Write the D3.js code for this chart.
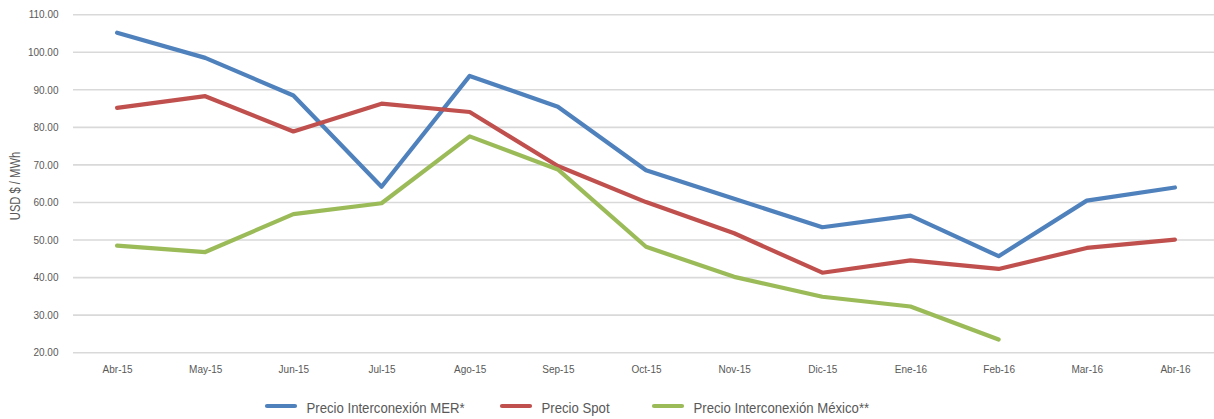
<!DOCTYPE html>
<html><head><meta charset="utf-8">
<script src="https://cdn.jsdelivr.net/npm/d3@7/dist/d3.min.js"></script>
<style>
html,body{margin:0;padding:0;background:#fff;}
text{font-family:"Liberation Sans",Arial,sans-serif;fill:#595959;}
</style></head>
<body><svg id="c" width="1214" height="419"></svg>
<script>
const months = ["Abr-15","May-15","Jun-15","Jul-15","Ago-15","Sep-15","Oct-15","Nov-15","Dic-15","Ene-16","Feb-16","Mar-16","Abr-16"];
const mer = [105.2,98.5,88.5,64.2,93.7,85.5,68.6,61.0,53.4,56.5,45.7,60.5,64.0];
const spot = [85.2,88.3,78.9,86.3,84.1,69.7,60.1,51.8,41.3,44.6,42.3,47.9,50.1];
const mexico = [48.5,46.8,56.9,59.8,77.6,68.8,48.2,40.2,34.9,32.3,23.5,null,null];
const yTicks = [20,30,40,50,60,70,80,90,100,110];
const seriesNames = ["Precio Interconexión MER*","Precio Spot","Precio Interconexión México**"];
const colors = ["#4F81BD","#C0504D","#9BBB59"];

const svg = d3.select("#c");
const x = d3.scalePoint().domain(months).range([73,1219]).padding(0.5);
const y = d3.scaleLinear().domain([20,110]).range([352.7,14.7]);

// gridlines
svg.append("g").selectAll("line").data(yTicks).join("line")
  .attr("x1",73).attr("x2",1214)
  .attr("y1",d=>y(d)).attr("y2",d=>y(d))
  .attr("stroke","#D9D9D9").attr("stroke-width",1.6);

// y axis labels
const yAxis = d3.axisLeft(y).tickValues(yTicks).tickFormat(d3.format(".2f")).tickSize(0).tickPadding(0);
const gy = svg.append("g").attr("transform","translate(58.5,0)").call(yAxis);
gy.select(".domain").remove();
gy.selectAll("text").attr("font-size",10).attr("fill","#595959").style("font-family",null);

// x axis labels
const xAxis = d3.axisBottom(x).tickSize(0).tickPadding(0);
const gx = svg.append("g").attr("transform","translate(0,365.4)").call(xAxis);
gx.select(".domain").remove();
gx.selectAll("text").attr("font-size",10).attr("fill","#595959").style("font-family",null);

// y title
svg.append("text").attr("transform","translate(19.5,186) rotate(-90) scale(0.8,1)")
  .attr("text-anchor","middle").attr("font-size",14).text("USD $ / MWh");

// lines
const allSeries = [mer,spot,mexico];
const line = d3.line().defined(d=>d.v!=null).x(d=>x(d.m)).y(d=>y(d.v));
allSeries.forEach((s,i)=>{
  const data = months.map((m,j)=>({m:m,v:s[j]}));
  svg.append("path").datum(data).attr("d",line)
    .attr("fill","none").attr("stroke",colors[i]).attr("stroke-width",4.2)
    .attr("stroke-linejoin","round").attr("stroke-linecap","round");
});

// legend
const legX = [265,500,652];
const lg = svg.append("g");
seriesNames.forEach((n,i)=>{
  lg.append("line").attr("x1",legX[i]+2).attr("x2",legX[i]+30).attr("y1",406).attr("y2",406)
    .attr("stroke",colors[i]).attr("stroke-width",4.2).attr("stroke-linecap","round");
  lg.append("text").attr("transform",`translate(${legX[i]+41.5},412.5) scale(0.85,1)`)
    .attr("font-size",15.5).text(n);
});
</script></body></html>
